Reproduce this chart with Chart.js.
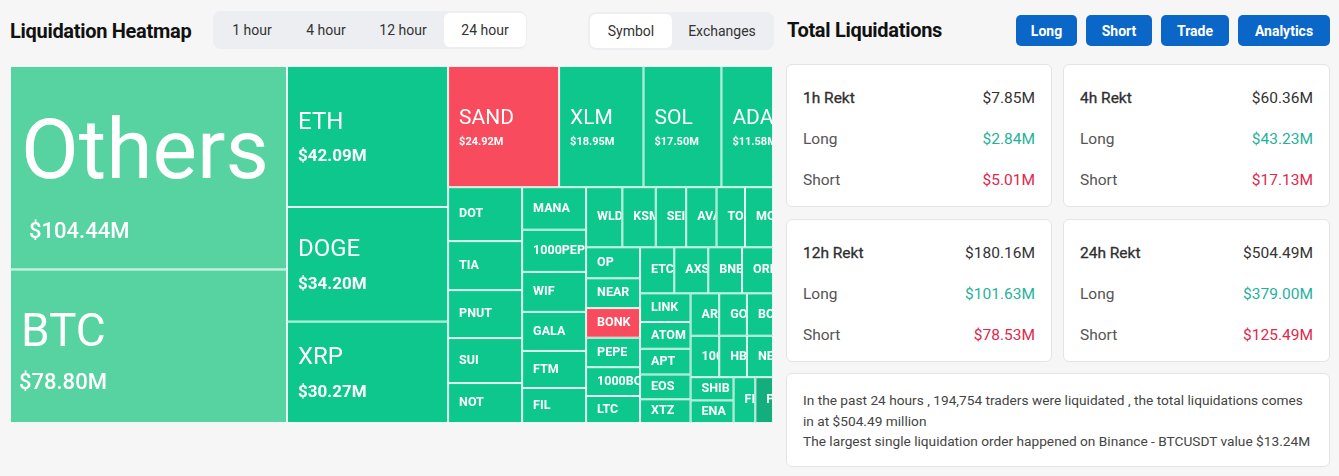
<!DOCTYPE html>
<html>
<head>
<meta charset="utf-8">
<script src="https://cdn.jsdelivr.net/npm/chart.js"></script>
<style>
  body { margin: 0; background: #f6f6f7; font-family: Roboto, "Noto Sans", sans-serif; width: 1339px; height: 476px; position: relative; overflow: hidden; color: #222; }
  .abs { position: absolute; }
  .title { font-weight: 700; font-size: 20px; line-height: 24px; letter-spacing: -0.3px; color: #111; }
  .group { background: #eceef1; border-radius: 8px; }
  .tab { position: absolute; top: 2px; height: 34px; display: flex; align-items: center; justify-content: center; font-size: 14px; color: #333; border-radius: 6px; }
  .tab.on { background: #fff; }
  .btn { position: absolute; top: 15px; height: 31px; background: #0b67c7; color: #fff; font-weight: 700; font-size: 14px; border-radius: 5px; display: flex; align-items: center; justify-content: center; }
  .card { position: absolute; background: #fff; border: 1px solid #e4e4e7; border-radius: 6px; box-sizing: border-box; }
  .row { position: absolute; left: 16px; right: 16px; height: 20px; line-height: 20px; display: flex; justify-content: space-between; font-size: 15.5px; color: #555; }
  .row.head { color: #333; }
  .row.head span:first-child { color: #2f2f2f; -webkit-text-stroke: 0.3px #2f2f2f; }
  .up { color: #1fb39b; }
  .down { color: #e0284b; }
  .note { left: 786px; top: 373px; width: 544px; height: 94px; padding: 16px 16px 0 16px; font-size: 13.7px; line-height: 20.5px; color: #444; white-space: nowrap; }
  #heat { position: absolute; left: 10px; top: 66px; }
</style>
</head>
<body>

<div class="abs title" style="left:10px;top:19px;">Liquidation Heatmap</div>
<div class="abs group" id="periods" style="left:213px;top:11px;width:314px;height:38px;"></div>
<div class="abs group" id="modes" style="left:588px;top:12px;width:186px;height:38px;"></div>

<div class="abs title" style="left:787px;top:18px;">Total Liquidations</div>
<div id="buttons"></div>
<div id="cards"></div>
<div class="card note" id="note"></div>

<canvas id="heat" width="763" height="357"></canvas>

<script>
// treemap data ($ millions), in layout order
const symbols = ['Others', 'BTC', 'ETH', 'DOGE', 'XRP', 'SAND', 'XLM', 'SOL', 'ADA',
  'DOT', 'TIA', 'PNUT', 'SUI', 'NOT',
  'MANA', '1000PEPE', 'WIF', 'GALA', 'FTM', 'FIL',
  'WLD', 'KSM', 'SEI', 'AVAX', 'TON', 'MOODENG',
  'OP', 'NEAR', 'BONK', 'PEPE', '1000BONK', 'LTC',
  'ETC', 'AXS', 'BNB', 'ORDI',
  'LINK', 'ATOM', 'APT', 'EOS', 'XTZ',
  'ARB', 'GOAT', 'BCH',
  '1000SATS', 'HBAR', 'NEIRO',
  'SHIB', 'ENA', 'FIDA', 'PIXEL'];
const liquidations = [104.44, 78.80, 42.09, 34.20, 30.27, 24.92, 18.95, 17.50, 11.58,
  7.40, 6.72, 6.58, 6.17, 5.48,
  5.04, 5.00, 4.74, 4.63, 4.39, 4.15,
  4.04, 3.72, 3.39, 3.38, 3.17, 3.12,
  3.10, 2.98, 2.96, 2.95, 2.88, 2.70,
  2.92, 2.90, 2.88, 2.64,
  2.69, 2.50, 2.41, 2.32, 2.22,
  2.25, 2.18, 2.05,
  2.20, 2.13, 2.00,
  1.85, 1.80, 1.85, 1.50];
// which side dominated
const bias = ['soft', 'soft', 'long', 'long', 'long', 'short', 'long', 'long', 'long',
  'long', 'long', 'long', 'long', 'long',
  'long', 'long', 'long', 'long', 'long', 'long',
  'long', 'long', 'long', 'long', 'long', 'long',
  'long', 'long', 'short', 'long', 'long', 'long',
  'long', 'long', 'long', 'long',
  'long', 'long', 'long', 'long', 'long',
  'long', 'long', 'long',
  'long', 'long', 'long',
  'long', 'long', 'long', 'deep'];

// summary cards
const periods = ['1h', '4h', '12h', '24h'];
const rektTotal = [7.85, 60.36, 180.16, 504.49];
const rektLong = [2.84, 43.23, 101.63, 379.00];
const rektShort = [5.01, 17.13, 78.53, 125.49];

const periodTabs = ['1 hour', '4 hour', '12 hour', '24 hour'];
const modeTabs = ['Symbol', 'Exchanges'];
const buttons = ['Long', 'Short', 'Trade', 'Analytics'];

// ---- page chrome ----
const periodBox = document.getElementById('periods');
[[2, 74], [76, 74], [152, 76], [231, 82]].forEach((p, i) => {
  const d = document.createElement('div');
  d.className = 'tab' + (i === 3 ? ' on' : '');
  d.style.left = p[0] + 'px'; d.style.width = p[1] + 'px';
  d.textContent = periodTabs[i];
  periodBox.appendChild(d);
});
const modeBox = document.getElementById('modes');
[[2, 82], [86, 96]].forEach((p, i) => {
  const d = document.createElement('div');
  d.className = 'tab' + (i === 0 ? ' on' : '');
  d.style.left = p[0] + 'px'; d.style.width = p[1] + 'px';
  d.textContent = modeTabs[i];
  modeBox.appendChild(d);
});
const btnBox = document.getElementById('buttons');
[[1016, 61], [1086, 66], [1161, 68], [1238, 92]].forEach((p, i) => {
  const d = document.createElement('div');
  d.className = 'btn';
  d.style.left = p[0] + 'px'; d.style.width = p[1] + 'px';
  d.textContent = buttons[i];
  btnBox.appendChild(d);
});

const money = v => '$' + v.toFixed(2) + 'M';
const cardBox = document.getElementById('cards');
[[786, 64], [1063, 64], [786, 219], [1063, 219]].forEach((p, i) => {
  const c = document.createElement('div');
  c.className = 'card';
  c.style.left = p[0] + 'px'; c.style.top = p[1] + 'px';
  c.style.width = (i % 2 ? 267 : 266) + 'px'; c.style.height = '143px';
  c.innerHTML =
    '<div class="row head" style="top:23px"><span>' + periods[i] + ' Rekt</span><span>' + money(rektTotal[i]) + '</span></div>' +
    '<div class="row" style="top:64px"><span>Long</span><span class="up">' + money(rektLong[i]) + '</span></div>' +
    '<div class="row" style="top:105px"><span>Short</span><span class="down">' + money(rektShort[i]) + '</span></div>';
  cardBox.appendChild(c);
});
document.getElementById('note').innerHTML =
  'In the past 24 hours , 194,754 traders were liquidated , the total liquidations comes<br>' +
  'in at $' + rektTotal[3].toFixed(2) + ' million<br>' +
  'The largest single liquidation order happened on Binance - BTCUSDT value $13.24M';

// ---- treemap ----
const W = 763, H = 357;

// squarified layout (golden-ratio variant)
function squarify(items, x0, y0, x1, y1) {
  const ratio = (1 + Math.sqrt(5)) / 2;
  const out = [];
  let value = items.reduce((s, d) => s + d.value, 0);
  let i0 = 0, i1 = 0;
  const n = items.length;
  while (i0 < n) {
    const dx = x1 - x0, dy = y1 - y0;
    let sum = items[i1++].value;
    let minV = sum, maxV = sum;
    const alpha = Math.max(dy / dx, dx / dy) / (value * ratio);
    let beta = sum * sum * alpha;
    let minRatio = Math.max(maxV / beta, beta / minV);
    for (; i1 < n; ++i1) {
      const v = items[i1].value;
      sum += v;
      if (v < minV) minV = v;
      if (v > maxV) maxV = v;
      beta = sum * sum * alpha;
      const r = Math.max(maxV / beta, beta / minV);
      if (r > minRatio) { sum -= v; break; }
      minRatio = r;
    }
    const row = items.slice(i0, i1);
    if (dx < dy) {
      const h = i1 >= n ? dy : dy * sum / value;
      let x = x0;
      row.forEach(d => { const w = dx * d.value / sum; out.push(Object.assign({}, d, { x0: x, x1: x + w, y0: y0, y1: y0 + h })); x += w; });
      y0 += h;
    } else {
      const w = i1 >= n ? dx : dx * sum / value;
      let y = y0;
      row.forEach(d => { const h = dy * d.value / sum; out.push(Object.assign({}, d, { x0: x0, x1: x0 + w, y0: y, y1: y + h })); y += h; });
      x0 += w;
    }
    value -= sum; i0 = i1;
  }
  return out;
}

const colors = { soft: '#56d3a1', long: '#0dc78c', short: '#f84b5d', deep: '#14ad7c' };

function labelStyle(v) {
  if (v >= 100) return { name: '400 84px Roboto', nameDy: -11, val: '500 22px Roboto', valDy: 65, valDx: 8 };
  if (v >= 60) return { name: '400 46px Roboto', nameDy: -12, val: '500 22px Roboto', valDy: 37, valDx: -2 };
  if (v >= 25) return { name: '400 24px Roboto', nameDy: -14, val: '700 17px Roboto', valDy: 20, valDx: 0 };
  if (v >= 10) return { name: '400 21px Roboto', nameDy: -8, val: '700 11px Roboto', valDy: 16, valDx: 0 };
  return { name: '700 12.5px Roboto', nameDy: 0, val: null };
}

const treemapPlugin = {
  id: 'treemap',
  afterDatasetsDraw(chart) {
    const ctx = chart.ctx;
    const xs = chart.scales.x, ys = chart.scales.y;
    const items = symbols.map((s, i) => ({ label: s, value: liquidations[i], bias: bias[i] }));
    const cells = squarify(items, 0, 0, W, H);
    cells.forEach(c => {
      const left = xs.getPixelForValue(c.x0), right = xs.getPixelForValue(c.x1);
      const top = ys.getPixelForValue(c.y0), bottom = ys.getPixelForValue(c.y1);
      ctx.save();
      ctx.fillStyle = colors[c.bias];
      ctx.fillRect(left, top, right - left, bottom - top);
      ctx.strokeStyle = 'rgba(255,255,255,0.9)';
      ctx.lineWidth = 1;
      ctx.strokeRect(left + 0.5, top + 0.5, right - left - 1, bottom - top - 1);
      ctx.beginPath();
      ctx.rect(left + 1, top + 1, right - left - 2, bottom - top - 2);
      ctx.clip();
      const st = labelStyle(c.value);
      const cy = (top + bottom) / 2;
      ctx.fillStyle = '#ffffff';
      ctx.textBaseline = 'middle';
      ctx.font = st.name;
      ctx.fillText(c.label, left + 11, cy + st.nameDy);
      if (st.val) {
        ctx.font = st.val;
        ctx.fillText(money(c.value), left + 11 + st.valDx, cy + st.valDy);
      }
      ctx.restore();
    });
  }
};

new Chart(document.getElementById('heat'), {
  type: 'scatter',
  data: { datasets: [{ data: [] }] },
  options: {
    responsive: false,
    animation: false,
    layout: { padding: 0 },
    plugins: { legend: { display: false }, tooltip: { enabled: false } },
    scales: {
      x: { type: 'linear', min: 0, max: W, display: false },
      y: { type: 'linear', min: 0, max: H, reverse: true, display: false }
    }
  },
  plugins: [treemapPlugin]
});
</script>
</body>
</html>
